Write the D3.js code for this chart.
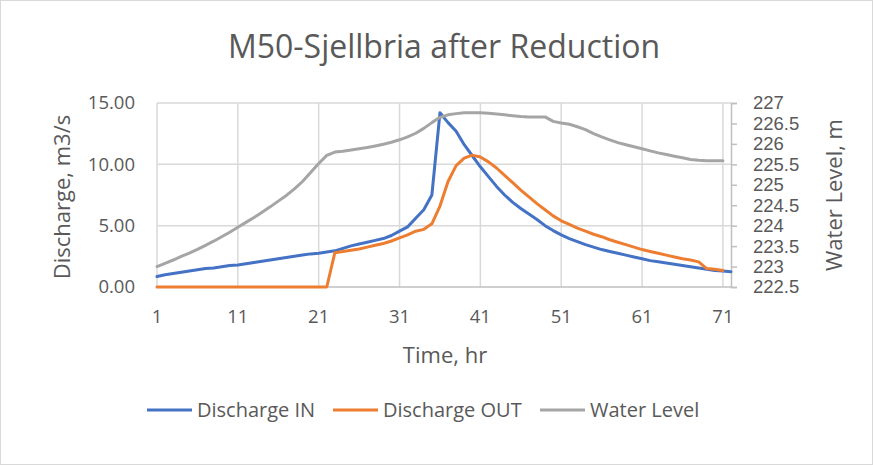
<!DOCTYPE html>
<html>
<head>
<meta charset="utf-8">
<script src="https://cdn.jsdelivr.net/npm/d3@7"></script>
<style>
  body { margin: 0; background: #fff; }
  svg { display: block; font-family: "Open Sans", "Noto Sans", sans-serif; }
</style>
</head>
<body>
<svg id="chart" width="873" height="465"></svg>
<script>
// hours (category axis)
const hours = [1, 2, 3, 4, 5, 6, 7, 8, 9, 10, 11, 12, 13, 14, 15, 16, 17, 18, 19, 20,
  21, 22, 23, 24, 25, 26, 27, 28, 29, 30, 31, 32, 33, 34, 35, 36, 37, 38, 39, 40,
  41, 42, 43, 44, 45, 46, 47, 48, 49, 50, 51, 52, 53, 54, 55, 56, 57, 58, 59, 60,
  61, 62, 63, 64, 65, 66, 67, 68, 69, 70, 71, 72];

// Discharge IN, m3/s (72 values)
const dischargeIn = [0.85, 1.0, 1.1, 1.2, 1.3, 1.4, 1.5, 1.55, 1.65, 1.75,
  1.8, 1.9, 2.0, 2.1, 2.2, 2.3, 2.4, 2.5, 2.6, 2.7,
  2.75, 2.85, 2.95, 3.15, 3.35, 3.5, 3.65, 3.8, 3.95, 4.2,
  4.55, 4.9, 5.6, 6.3, 7.5, 14.2, 13.4, 12.7, 11.6, 10.7,
  9.8, 9.0, 8.2, 7.5, 6.9, 6.4, 5.95, 5.5, 5.0, 4.6,
  4.25, 3.95, 3.7, 3.45, 3.25, 3.05, 2.9, 2.75, 2.6, 2.45,
  2.3, 2.15, 2.05, 1.95, 1.85, 1.75, 1.65, 1.55, 1.45, 1.35,
  1.3, 1.25];

// Discharge OUT, m3/s (71 values)
const dischargeOut = [0, 0, 0, 0, 0, 0, 0, 0, 0, 0,
  0, 0, 0, 0, 0, 0, 0, 0, 0, 0,
  0, 0, 2.8, 2.9, 3.0, 3.1, 3.25, 3.4, 3.55, 3.75,
  4.0, 4.25, 4.55, 4.7, 5.15, 6.6, 8.6, 9.9, 10.5, 10.75,
  10.6, 10.2, 9.7, 9.1, 8.5, 7.9, 7.35, 6.8, 6.3, 5.8,
  5.4, 5.1, 4.8, 4.55, 4.3, 4.1, 3.85, 3.65, 3.45, 3.25,
  3.05, 2.9, 2.75, 2.6, 2.45, 2.3, 2.2, 2.05, 1.5, 1.45,
  1.35];

// Water Level, m (71 values)
const waterLevel = [223.0, 223.08, 223.16, 223.25, 223.33, 223.42, 223.52, 223.62, 223.73, 223.84,
  223.96, 224.08, 224.2, 224.33, 224.46, 224.6, 224.74, 224.9, 225.08, 225.3,
  225.52, 225.72, 225.8, 225.82, 225.85, 225.88, 225.91, 225.95, 225.99, 226.04,
  226.1, 226.17, 226.26, 226.38, 226.52, 226.65, 226.71, 226.74, 226.76, 226.76,
  226.76, 226.75, 226.73, 226.71, 226.69, 226.67, 226.66, 226.66, 226.66, 226.55,
  226.51, 226.48, 226.42, 226.35, 226.25, 226.17, 226.1, 226.03, 225.98, 225.93,
  225.88, 225.83, 225.78, 225.74, 225.7, 225.66, 225.62, 225.6, 225.59, 225.59,
  225.59];

const xTicks = [1, 11, 21, 31, 41, 51, 61, 71];
const leftTicks = [0, 5, 10, 15];
const rightTicks = [222.5, 223, 223.5, 224, 224.5, 225, 225.5, 226, 226.5, 227];

const series = [
  { name: "Discharge IN", values: dischargeIn, color: "#4472C4", axis: "left" },
  { name: "Discharge OUT", values: dischargeOut, color: "#ED7D31", axis: "left" },
  { name: "Water Level", values: waterLevel, color: "#A5A5A5", axis: "right" }
];

const width = 873, height = 465;
const margin = { top: 103, right: 142, bottom: 178, left: 157 };
const textColor = "#595959";

const svg = d3.select("#chart");

// chart border
svg.append("rect")
  .attr("x", 0.5).attr("y", 0.5)
  .attr("width", width - 1).attr("height", height - 1)
  .attr("fill", "#fff")
  .attr("stroke", "#d9d9d9");

const x = d3.scalePoint()
  .domain(hours)
  .range([margin.left, width - margin.right]);

const yLeft = d3.scaleLinear()
  .domain([0, 15])
  .range([height - margin.bottom, margin.top]);

const yRight = d3.scaleLinear()
  .domain([222.5, 227])
  .range([height - margin.bottom, margin.top]);

// horizontal gridlines
svg.append("g")
  .selectAll("line")
  .data(leftTicks.slice(1))
  .join("line")
  .attr("x1", margin.left).attr("x2", width - margin.right)
  .attr("y1", d => yLeft(d)).attr("y2", d => yLeft(d))
  .attr("stroke", "#d9d9d9").attr("stroke-width", 1.5);

// vertical gridlines
svg.append("g")
  .selectAll("line")
  .data(xTicks)
  .join("line")
  .attr("x1", d => x(d)).attr("x2", d => x(d))
  .attr("y1", margin.top).attr("y2", height - margin.bottom)
  .attr("stroke", "#d9d9d9").attr("stroke-width", 1.5);

// bottom axis line
svg.append("line")
  .attr("x1", margin.left).attr("x2", width - margin.right)
  .attr("y1", yLeft(0)).attr("y2", yLeft(0))
  .attr("stroke", "#bfbfbf").attr("stroke-width", 1.5);

// right axis
const rightAxis = svg.append("g")
  .attr("transform", `translate(${width - margin.right},0)`)
  .call(d3.axisRight(yRight).tickValues(rightTicks).tickSize(6).tickFormat(d3.format("")));
rightAxis.select(".domain").attr("stroke", "#bfbfbf").attr("stroke-width", 1.5);
rightAxis.selectAll(".tick line").attr("stroke", "#bfbfbf").attr("stroke-width", 1.5);
rightAxis.selectAll(".tick text")
  .attr("x", 22)
  .attr("fill", textColor)
  .style("font-size", "18.5px")
  .style("font-family", "inherit");

// left tick labels
svg.append("g")
  .selectAll("text")
  .data(leftTicks)
  .join("text")
  .attr("x", 135)
  .attr("y", d => yLeft(d))
  .attr("dy", "0.35em")
  .attr("text-anchor", "end")
  .attr("fill", textColor)
  .style("font-size", "18.5px")
  .text(d => d3.format(".2f")(d));

// bottom tick labels
svg.append("g")
  .selectAll("text")
  .data(xTicks)
  .join("text")
  .attr("x", d => x(d))
  .attr("y", 317)
  .attr("dy", "0.35em")
  .attr("text-anchor", "middle")
  .attr("fill", textColor)
  .style("font-size", "18.5px")
  .text(d => d);

// lines
series.forEach(s => {
  const yScale = s.axis === "left" ? yLeft : yRight;
  const line = d3.line()
    .x((d, i) => x(hours[i]))
    .y(d => yScale(d));
  svg.append("path")
    .datum(s.values)
    .attr("d", line)
    .attr("fill", "none")
    .attr("stroke", s.color)
    .attr("stroke-width", 3)
    .attr("stroke-linejoin", "round")
    .attr("stroke-linecap", "round");
});

// title
svg.append("text")
  .attr("x", 444).attr("y", 58)
  .attr("text-anchor", "middle")
  .attr("fill", textColor)
  .style("font-size", "32px")
  .text("M50-Sjellbria after Reduction");

// axis titles
svg.append("text")
  .attr("transform", `translate(62,197) rotate(-90)`)
  .attr("dy", "0.35em")
  .attr("text-anchor", "middle")
  .attr("fill", textColor)
  .style("font-size", "22px")
  .text("Discharge, m3/s");

svg.append("text")
  .attr("transform", `translate(834,195) rotate(-90)`)
  .attr("dy", "0.35em")
  .attr("text-anchor", "middle")
  .attr("fill", textColor)
  .style("font-size", "22px")
  .text("Water Level, m");

svg.append("text")
  .attr("x", 445).attr("y", 363)
  .attr("text-anchor", "middle")
  .attr("fill", textColor)
  .style("font-size", "22px")
  .text("Time, hr");

// legend
const legendX = [147, 333, 540];
const legend = svg.append("g")
  .selectAll("g")
  .data(series)
  .join("g")
  .attr("transform", (d, i) => `translate(${legendX[i]},410)`);
legend.append("line")
  .attr("x1", 0).attr("x2", 45)
  .attr("stroke", d => d.color)
  .attr("stroke-width", 3);
legend.append("text")
  .attr("x", 50)
  .attr("dy", "0.35em")
  .attr("fill", textColor)
  .style("font-size", "20px")
  .text(d => d.name);
</script>
</body>
</html>
